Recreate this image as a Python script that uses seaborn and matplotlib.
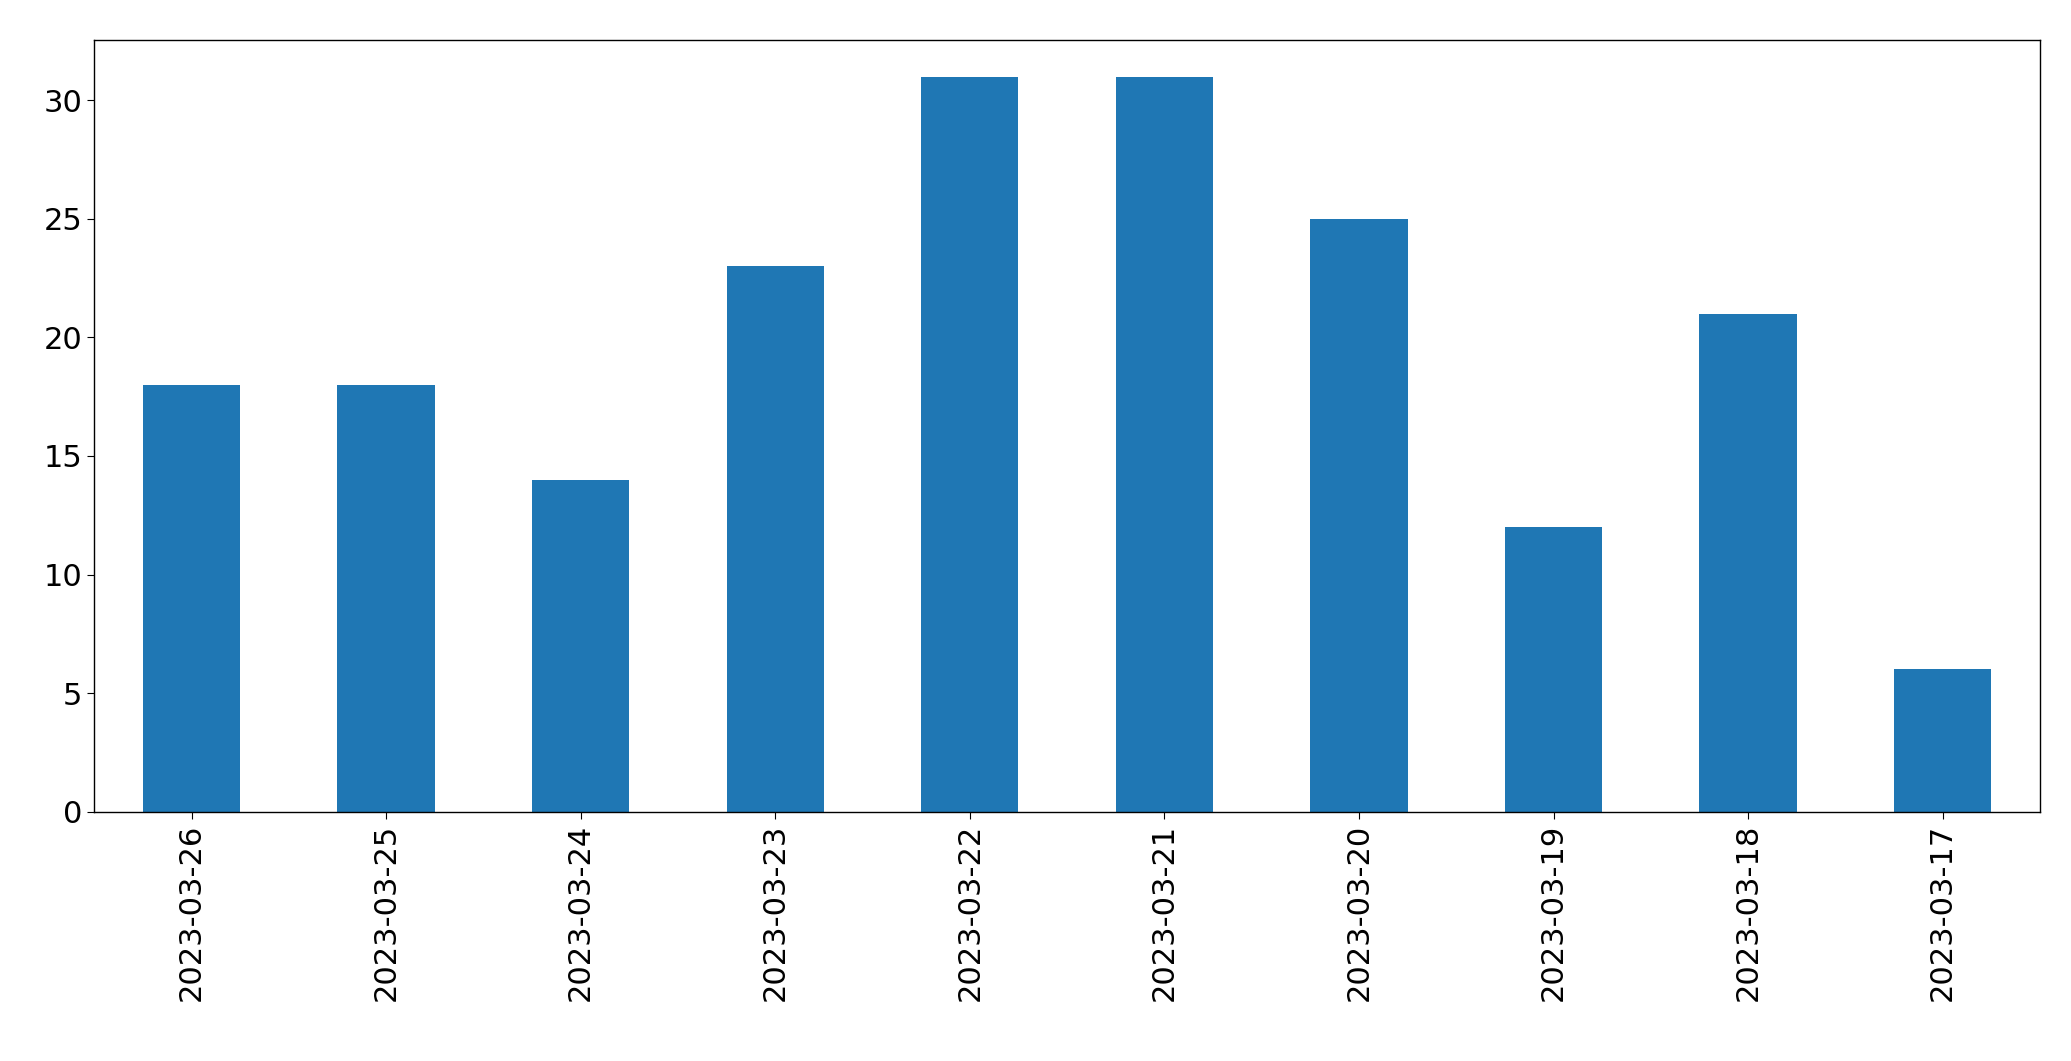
import matplotlib
matplotlib.use("Agg")
import matplotlib.pyplot as plt
import seaborn as sns
import pandas as pd

dates = ["2023-03-26", "2023-03-25", "2023-03-24", "2023-03-23", "2023-03-22",
         "2023-03-21", "2023-03-20", "2023-03-19", "2023-03-18", "2023-03-17"]
counts = [18, 18, 14, 23, 31, 31, 25, 12, 21, 6]

df = pd.DataFrame({"date": dates, "count": counts})

fig = plt.figure(figsize=(20.71, 10.61), dpi=100)
ax = fig.add_axes([0.0455, 0.235, 0.9395, 0.7275])
sns.barplot(data=df, x="date", y="count", color="#1f77b4", saturation=1,
            width=0.5, ax=ax)
ax.set_xlabel("")
ax.set_ylabel("")
ax.tick_params(axis="both", labelsize=22, length=5)
ax.tick_params(axis="x", rotation=90)
ax.set_xlim(-0.5, len(dates) - 0.5)
for s in ax.spines.values():
    s.set_color("black")
    s.set_linewidth(1)

fig.savefig("out.png", dpi=100)
